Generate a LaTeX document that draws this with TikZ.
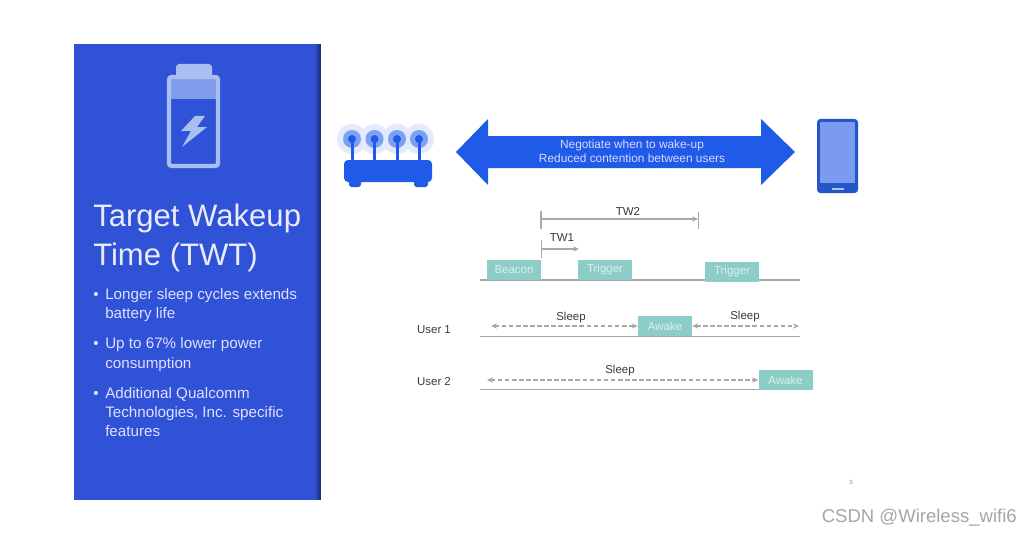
\documentclass[tikz,border=0pt]{standalone}
\usepackage{fontspec}
\setmainfont{Liberation Sans}
\usetikzlibrary{arrows.meta}
\definecolor{panel}{HTML}{2F52D6}
\definecolor{batt}{HTML}{A9BFF2}
\definecolor{battfill}{HTML}{7F9DEB}
\definecolor{royal}{HTML}{1F5BE8}
\definecolor{phonescr}{HTML}{7A9BF0}
\definecolor{phoneedge}{HTML}{2456C8}
\definecolor{teal}{HTML}{8CCDC8}
\definecolor{axis}{HTML}{A8A8A8}
\definecolor{lbl}{HTML}{3A3A3A}
\definecolor{wm}{HTML}{A6A6A6}
\definecolor{tealtxt}{HTML}{DDF0EE}
\tikzset{
  x=0.75pt,y=-0.75pt,
  title/.style={anchor=base west,text=white!92!blue,font=\fontsize{23.3}{27}\selectfont,inner sep=0},
  bullet/.style={anchor=base west,text=white!88!blue,font=\fontsize{11.4}{14}\selectfont,inner sep=0},
  box/.style={fill=teal,draw=none,inner sep=0,minimum width=40.5pt,minimum height=15pt,text=tealtxt,font=\fontsize{8.6}{10}\selectfont},
  lab/.style={text=lbl,font=\fontsize{8.6}{10}\selectfont,inner sep=0},
  axisline/.style={draw=axis,line width=1pt},
  tick/.style={draw=axis,line width=0.9pt},
  span/.style={draw=axis,line width=0.9pt,-{Stealth[length=4.5pt,width=4pt]}},
  sleeparrow/.style={draw=axis,line width=1pt,dash pattern=on 3.5pt off 1.8pt,{Stealth[length=4.5pt,width=4pt]}-{Stealth[length=4.5pt,width=4pt]}},
  halo/.style={circle,inner sep=0,minimum size=22.5pt,fill=royal!13},
  halomid/.style={circle,inner sep=0,minimum size=13.5pt,fill=royal!58},
  dot/.style={circle,inner sep=0,minimum size=6pt,fill=royal},
}
\begin{document}
\begin{tikzpicture}
\useasboundingbox (0,0) rectangle (1032,535);
\fill[white] (0,0) rectangle (1032,535);
% panel
\coordinate (pa) at (74,44); \coordinate (pb) at (321,500);
\fill[panel] (pa) rectangle (pb);
\foreach \i in {0,...,6}{
  \pgfmathtruncatemacro{\p}{100-7*\i}
  \fill[panel!\p!black] (314+\i,44) rectangle (315+\i,500);
}
% battery
\fill[batt,rounded corners=2.5pt] (176,64) rectangle (212,80);
\fill[battfill] (170,77) rectangle (218,99);
\draw[batt,line width=3.2pt,rounded corners=2pt] (169,77) rectangle (218,166);
\fill[batt] (195,116) -- (181,131) -- (191,131) -- (182,147) -- (207,127) -- (197,127) -- (205,116) -- cycle;
% title
\node[title] (t1) at (93,226) {Target Wakeup};
\node[title] (t2) at (93,265) {Time (TWT)};
% bullets
\node[bullet] (b1) at (93,299) {•};
\node[bullet] (b1a) at (105,299) {Longer sleep cycles extends};
\node[bullet] (b1b) at (105,318.5) {battery life};
\node[bullet] (b2) at (93,348) {•};
\node[bullet] (b2a) at (105,348) {Up to 67\% lower power};
\node[bullet] (b2b) at (105,368) {consumption};
\node[bullet] (b3) at (93,398) {•};
\node[bullet] (b3a) at (105,398) {Additional Qualcomm};
\node[bullet] (b3b) at (105,417) {Technologies, Inc. specific};
\node[bullet] (b3c) at (105,436) {features};
% router
\foreach \n/\x in {a/352,b/374.5,c/397,d/419}{
  \node[halo] (h\n) at (\x,139) {};
}
\foreach \n/\x in {a/352,b/374.5,c/397,d/419}{
  \node[halomid] (m\n) at (\x,139) {};
  \fill[royal] (\x-1.5,140) rectangle (\x+1.5,162);
  \node[dot] (d\n) at (\x,139) {};
}
\fill[royal,rounded corners=3pt] (344,160) rectangle (432,182);
\fill[royal,rounded corners=2pt] (349,178) rectangle (361,187);
\fill[royal,rounded corners=2pt] (414,178) rectangle (428,187);
% double arrow
\fill[royal] (456,152) -- (488,119) -- (488,136) -- (761,136) -- (761,119) -- (795,152) -- (761,185) -- (761,168) -- (488,168) -- (488,185) -- cycle;
\node[text=white!85!blue,font=\fontsize{8.9}{10.5}\selectfont,align=center,inner sep=0] (neg) at (632,151.5) {Negotiate when to wake-up\\Reduced contention between users};
% phone
\fill[phoneedge,rounded corners=2.5pt] (817,119) rectangle (858,193);
\fill[phonescr] (820,122) rectangle (855,183);
\fill[phonescr!60!white] (832,188) rectangle (844,189.5);
% timing
\draw[axisline] (480,280) -- (800,280);
\node[box] (beacon) at (514,269.5) {Beacon};
\node[box] (trig1) at (605,269.5) {Trigger};
\node[box] (trig2) at (732,271.5) {Trigger};
\draw[tick] (541,211) -- (541,229);
\draw[tick] (698.5,212) -- (698.5,229);
\coordinate (tw2s) at (541,219); \coordinate (tw2e) at (698,219);
\draw[span] (tw2s) -- (tw2e);
\node[lab] (tw2) at (628,211) {TW2};
\draw[tick] (541.5,240) -- (541.5,258);
\coordinate (tw1s) at (541.5,249); \coordinate (tw1e) at (579,249);
\draw[span] (tw1s) -- (tw1e);
\node[lab] (tw1) at (562,238) {TW1};
% user 1
\node[lab] (u1) at (434,330) {User 1};
\draw[axisline] (480,336.5) -- (800,336.5);
\node[box] (awake1) at (665,326) {Awake};
\coordinate (s1a) at (491,326); \coordinate (s1b) at (799,326);
\draw[sleeparrow] (s1a) -- (awake1.west);
\draw[sleeparrow] (awake1.east) -- (s1b);
\node[lab] (sl1) at (571,317.5) {Sleep};
\node[lab] (sl2) at (745,316.5) {Sleep};
% user 2
\node[lab] (u2) at (434,382) {User 2};
\draw[axisline] (480,389.5) -- (800,389.5);
\node[box] (awake2) at (785.5,380) {Awake};
\coordinate (s2a) at (487,380);
\draw[sleeparrow] (s2a) -- (awake2.west);
\node[lab] (sl3) at (620,370.5) {Sleep};
% page no
\node[text=black!45,font=\fontsize{4.5}{5}\selectfont,inner sep=0] (pg) at (851,482) {3};
% watermark
\node[anchor=east,text=wm,font=\fontsize{13.9}{15}\selectfont,inner sep=0] (wm) at (1017,518) {CSDN @Wireless\_wifi6};
\end{tikzpicture}
\end{document}
